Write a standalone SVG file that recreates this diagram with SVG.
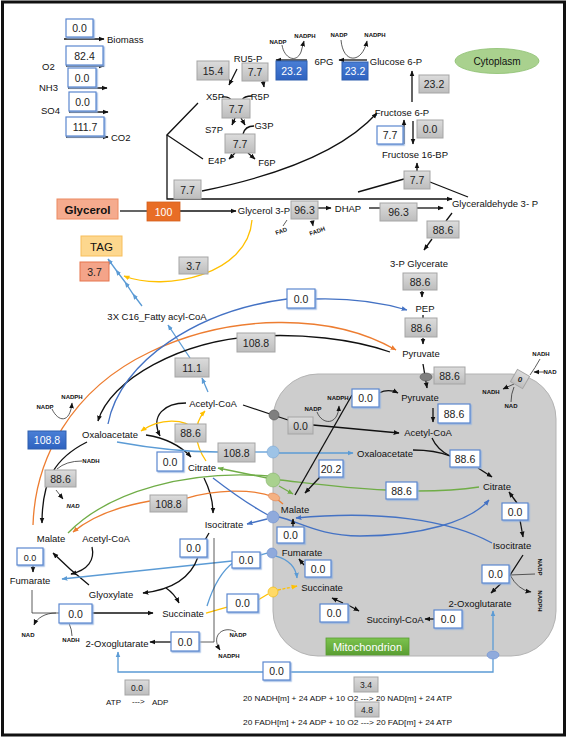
<svg xmlns="http://www.w3.org/2000/svg" width="567" height="739" viewBox="0 0 567 739">
<style>
.m{font-family:"Liberation Sans",Arial,sans-serif;font-size:9.5px;fill:#111;text-anchor:middle}
.ml{font-family:"Liberation Sans",Arial,sans-serif;font-size:9.5px;fill:#111}
.c{font-family:"Liberation Sans",Arial,sans-serif;font-size:6px;font-weight:bold;fill:#111;text-anchor:middle}
.n{font-family:"Liberation Sans",Arial,sans-serif;font-size:10.5px;fill:#222;text-anchor:middle}
.nw{font-family:"Liberation Sans",Arial,sans-serif;font-size:10.5px;fill:#fff;text-anchor:middle}
.gb{fill:url(#gg);stroke:#a5a5a5;stroke-width:1}
.wb{fill:#fff;stroke:#5b87cf;stroke-width:1.2;filter:url(#ws)}
.bb{fill:url(#bg);stroke:#2f5fae;stroke-width:1}
.k{fill:none;stroke:#111;stroke-width:1.3}
.kt{fill:none;stroke:#333;stroke-width:0.8}
.b{fill:none;stroke:#5b9bd5;stroke-width:1.3}
.db{fill:none;stroke:#4472c4;stroke-width:1.3}
.o{fill:none;stroke:#ed7d31;stroke-width:1.3}
.g{fill:none;stroke:#70ad47;stroke-width:1.3}
.y{fill:none;stroke:#ffc000;stroke-width:1.3}
.eq{font-family:"Liberation Sans",Arial,sans-serif;font-size:8px;fill:#111}
</style>
<defs>
<filter id="ws" x="-10%" y="-10%" width="130%" height="140%"><feDropShadow dx="1.2" dy="1.2" stdDeviation="0.3" flood-color="#8fb0e0" flood-opacity="0.9"/></filter>
<linearGradient id="gg" x1="0" y1="0" x2="0" y2="1"><stop offset="0" stop-color="#dcdcdc"/><stop offset="1" stop-color="#bdbdbd"/></linearGradient>
<linearGradient id="bg" x1="0" y1="0" x2="0" y2="1"><stop offset="0" stop-color="#4a7fd6"/><stop offset="1" stop-color="#2e62c0"/></linearGradient>
<linearGradient id="grg" x1="0" y1="0" x2="0" y2="1"><stop offset="0" stop-color="#7cc34e"/><stop offset="1" stop-color="#5a9e32"/></linearGradient>
<marker id="ak" viewBox="0 0 10 10" refX="9" refY="5" markerWidth="6" markerHeight="6" markerUnits="userSpaceOnUse" orient="auto-start-reverse"><path d="M0,1 L10,5 L0,9 z" fill="#111"/></marker>
<marker id="ab" viewBox="0 0 10 10" refX="9" refY="5" markerWidth="6" markerHeight="6" markerUnits="userSpaceOnUse" orient="auto-start-reverse"><path d="M0,1 L10,5 L0,9 z" fill="#5b9bd5"/></marker>
<marker id="adb" viewBox="0 0 10 10" refX="9" refY="5" markerWidth="6" markerHeight="6" markerUnits="userSpaceOnUse" orient="auto-start-reverse"><path d="M0,1 L10,5 L0,9 z" fill="#4472c4"/></marker>
<marker id="ao" viewBox="0 0 10 10" refX="9" refY="5" markerWidth="6" markerHeight="6" markerUnits="userSpaceOnUse" orient="auto-start-reverse"><path d="M0,1 L10,5 L0,9 z" fill="#ed7d31"/></marker>
<marker id="ag" viewBox="0 0 10 10" refX="9" refY="5" markerWidth="6" markerHeight="6" markerUnits="userSpaceOnUse" orient="auto-start-reverse"><path d="M0,1 L10,5 L0,9 z" fill="#70ad47"/></marker>
<marker id="ay" viewBox="0 0 10 10" refX="9" refY="5" markerWidth="6" markerHeight="6" markerUnits="userSpaceOnUse" orient="auto-start-reverse"><path d="M0,1 L10,5 L0,9 z" fill="#ffc000"/></marker>
</defs>
<rect x="0" y="0" width="567" height="739" fill="#fff"/>
<rect x="2.5" y="2" width="562" height="733" fill="none" stroke="#111" stroke-width="3"/>

<g id="mitochondrion-compartment">
<rect x="273" y="374" width="283" height="282" rx="45" fill="#cdcdcd" stroke="#b3b3b3" stroke-width="1"/>
</g>

<g id="connectors">
<path class="k" d="M64 39 H104" marker-end="url(#ak)" stroke-width="1"/>
<path class="k" d="M66 66 H104" marker-end="url(#ak)" stroke-width="1"/>
<path class="k" d="M68 88 H107" marker-end="url(#ak)" stroke-width="1"/>
<path class="k" d="M69 112 H108" marker-end="url(#ak)" stroke-width="1"/>
<path class="k" d="M66 137 H108" marker-end="url(#ak)" stroke-width="1"/>
<path class="k" d="M307 60 H276" marker-end="url(#ak)"/>
<path class="kt" d="M282 45 C 284 58, 296 64, 301 52 L304 41" marker-end="url(#ak)"/>
<path class="k" d="M367 60 H339" marker-end="url(#ak)"/>
<path class="kt" d="M341 40 C 343 64, 362 64, 367 41" marker-end="url(#ak)"/>
<path class="k" d="M237 69 L229 85" marker-end="url(#ak)"/>
<path class="k" d="M263 81 L264 87" marker-end="url(#ak)"/>
<path class="k" d="M222 97 Q229 96 231 100"/>
<path class="k" d="M252 96 Q244 96 242 100"/>
<path class="k" d="M235 118 L232 125" marker-end="url(#ak)"/>
<path class="k" d="M241 118 L245 125" marker-end="url(#ak)"/>
<path class="k" d="M254 126 Q245 126 243 134"/>
<path class="k" d="M235 153 L229 159" marker-end="url(#ak)"/>
<path class="k" d="M248 153 L255 159" marker-end="url(#ak)"/>
<path class="k" d="M198 103 L167 135 L203 159"/>
<path class="k" d="M167 135 V199 H452" marker-end="url(#ak)"/>
<path class="k" d="M202 191 Q 330 165 377 113" marker-end="url(#ak)"/>
<path class="k" d="M412 102 V71" marker-end="url(#ak)"/>
<path class="k" d="M404 144 V120" marker-end="url(#ak)"/>
<path class="k" d="M413 121 V144" marker-end="url(#ak)"/>
<path class="k" d="M417 171 V163" marker-end="url(#ak)"/>
<path class="k" d="M358 192 L404 179"/>
<path class="k" d="M430 182 L468 197"/>
<path class="k" d="M120 211 H147"/>
<path class="k" d="M180 211 H236" marker-end="url(#ak)"/>
<path class="k" d="M318 208 H331" marker-end="url(#ak)"/>
<path class="kt" d="M287 220 L283 226"/>
<path class="kt" d="M312 220 L313 226" marker-end="url(#ak)"/>
<path class="k" d="M369 208 H380"/>
<path class="k" d="M417 208 H443" marker-end="url(#ak)"/>
<path class="k" d="M452 213 L446 221"/>
<path class="k" d="M432 239 L424 250" marker-end="url(#ak)"/>
<path class="k" d="M422 291 V297" marker-end="url(#ak)"/>
<path class="k" d="M423 315 V318"/>
<path class="k" d="M423 338 V344" marker-end="url(#ak)"/>
<path class="k" d="M423 364 L427 388" marker-end="url(#ak)"/>
<path class="y" d="M252 220 C 248 275, 165 292, 124 276" marker-end="url(#ay)"/>
<polyline class="b" points="142,306 133,294 125,282 116,270 108,259" marker-mid="url(#ab)" marker-end="url(#ab)"/>
<path class="b" d="M190 358 L168 325" marker-end="url(#ab)"/>
<path class="b" d="M208 392 L202 378" marker-end="url(#ab)"/>
<path class="o" d="M33 525 C 35 460, 70 390, 150 352 S 330 312, 396 350" marker-end="url(#ao)"/>
<path class="k" d="M390 352 C 350 338, 300 334, 260 336 C 180 340, 110 380, 98 421" marker-end="url(#ak)"/>
<path class="db" d="M108 424 C 120 360, 200 310, 287 299"/>
<path class="db" d="M315 299 C 350 298, 380 302, 407 310" marker-end="url(#adb)"/>
<path class="kt" d="M52 409 C 58 422, 70 424, 72 403" marker-end="url(#ak)"/>
<path class="k" d="M87 442 C 55 458, 42 480, 42 523" marker-end="url(#ak)"/>
<path class="kt" d="M82 461 Q 66 461, 57 469"/>
<path class="kt" d="M56 490 L63 499" marker-end="url(#ak)"/>
<path class="k" d="M33 565 V572" marker-end="url(#ak)"/>
<path class="k" d="M89 585 Q 70 570 53 553" marker-end="url(#ak)"/>
<path class="k" d="M92 547 C 95 560, 88 570, 71 574" marker-end="url(#ak)"/>
<path class="k" d="M146 435 C 165 438, 180 445, 191 457" marker-end="url(#ak)"/>
<path class="k" d="M186 403 C 165 403, 150 415, 160 436" marker-end="url(#ak)"/>
<path class="y" d="M206 461 C 195 445, 192 425, 205 411" marker-end="url(#ay)"/>
<path class="y" d="M195 430 C 185 418, 160 418, 141 431" marker-end="url(#ay)"/>
<path class="k" d="M204 478 C 210 490, 213 500, 213 513" marker-end="url(#ak)"/>
<path class="k" d="M243 405 L288 420"/>
<path class="k" d="M313 425 L399 433" marker-end="url(#ak)"/>
<path class="b" d="M117 442 C 150 448, 190 452, 218 452"/>
<path class="b" d="M255 452 L268 452"/>
<path class="b" d="M279 453 L353 453" marker-end="url(#ab)"/>
<path class="g" d="M479 487 C 460 490, 440 491, 417 491"/>
<path class="g" d="M386 490 C 340 488, 300 482, 280 480"/>
<path class="g" d="M267 478 L218 468" marker-end="url(#ag)"/>
<path class="g" d="M268 476 C 190 470, 110 490, 68 533"/>
<path class="g" d="M279 486 L293 494" marker-end="url(#ag)"/>
<path class="o" d="M274 497 C 250 488, 215 490, 187 498"/>
<path class="o" d="M150 501 C 115 507, 90 518, 73 532" marker-end="url(#ao)"/>
<path class="o" d="M277 499 L283 504"/>
<path class="db" d="M213 478 C 235 495, 255 508, 268 515"/>
<path class="db" d="M267 519 L247 524" marker-end="url(#adb)"/>
<path class="db" d="M279 517 C 300 522, 320 536, 360 536 C 420 536, 470 522, 489 500" marker-end="url(#adb)"/>
<path class="db" d="M492 543 C 450 520, 380 510, 296 518" marker-end="url(#adb)"/>
<path class="b" d="M267 553 L260 555"/>
<path class="b" d="M232 561 L62 579" marker-end="url(#ab)"/>
<path class="b" d="M276 556 C 290 560, 296 568, 297 578" marker-end="url(#ab)"/>
<path class="b" d="M207 606 C 212 590, 220 572, 234 562"/>
<path class="y" d="M206 613 L227 607"/>
<path class="y" d="M258 600 L268 594"/>
<path class="y" d="M278 590 L297 586" stroke-dasharray="3 1.5" marker-end="url(#ay)"/>
<path class="k" d="M295 495 L352 395"/>
<path class="k" d="M379 393 C 385 390, 392 390, 398 393" marker-end="url(#ak)"/>
<path class="kt" d="M317 412 C 322 425, 338 426, 339 406" marker-end="url(#ak)"/>
<path class="k" d="M433 408 V422" marker-end="url(#ak)"/>
<path class="k" d="M432 438 C 436 447, 442 452, 450 456"/>
<path class="k" d="M413 450 C 430 450, 440 452, 450 456"/>
<path class="k" d="M478 468 L492 477" marker-end="url(#ak)"/>
<path class="k" d="M320 477 L305 493" marker-end="url(#ak)"/>
<path class="k" d="M517 503 L509 492" marker-end="url(#ak)"/>
<path class="k" d="M520 520 L523 537" marker-end="url(#ak)"/>
<path class="k" d="M293 527 V519" marker-end="url(#ak)"/>
<path class="k" d="M304 565 L299 559" marker-end="url(#ak)"/>
<path class="k" d="M523 555 L510 575 L491 593" marker-end="url(#ak)"/>
<path class="kt" d="M535 574 L510 575"/>
<path class="kt" d="M510 575 Q 518 590 531 592" marker-end="url(#ak)"/>
<path class="k" d="M434 619 L425 619" marker-end="url(#ak)"/>
<path class="k" d="M348 605 L359 611" marker-end="url(#ak)"/>
<path class="k" d="M343 603 L332 598" marker-end="url(#ak)"/>
<path class="kt" d="M540 359 Q 535 368 530 375"/>
<path class="kt" d="M544 372 L534 372" marker-end="url(#ak)"/>
<path class="kt" d="M514 384 L503 389" marker-end="url(#ak)"/>
<path class="kt" d="M511 402 Q 511 394 514 387"/>
<path class="b" d="M493 650 V611" marker-end="url(#ab)"/>
<path class="b" d="M493 659 V672 H290"/>
<path class="b" d="M263 672 H118 V652" marker-end="url(#ab)"/>
<path class="k" d="M209 533 L205 540"/>
<path class="k" d="M198 557 C 190 580, 170 590, 143 593" marker-end="url(#ak)"/>
<path class="k" d="M166 588 C 172 592, 176 597, 179 603" marker-end="url(#ak)"/>
<path class="kt" d="M214 538 V642 H199"/>
<path class="k" d="M171 642 H150" marker-end="url(#ak)"/>
<path class="kt" d="M236 632 C 224 625, 210 635, 220 650" marker-end="url(#ak)"/>
<path class="kt" d="M32 590 V613 H59"/>
<path class="k" d="M92 613 H153" marker-end="url(#ak)"/>
<path class="kt" d="M56 613 C 45 613, 37 618, 34 625" marker-end="url(#ak)"/>
<path class="kt" d="M69 623 Q 72 630, 72 636"/>
</g>

<g id="transporters">
<ellipse cx="426" cy="377" rx="6" ry="4" fill="#7f7f7f" stroke="#555" stroke-width="0.6"/>
<circle cx="274" cy="415" r="5" fill="#7f7f7f" stroke="#555" stroke-width="0.6"/>
<circle cx="273" cy="452" r="6" fill="#9dc3e6" stroke="#7aa7d6" stroke-width="0.6"/>
<circle cx="273" cy="480" r="7" fill="#a9d18e" stroke="#85b46a" stroke-width="0.6"/>
<ellipse cx="274" cy="497" rx="6" ry="3.5" fill="#f4b183" stroke="#e58a56" stroke-width="0.6" transform="rotate(20 274 497)"/>
<circle cx="273" cy="517" r="6" fill="#8faadc" stroke="#6c8fd0" stroke-width="0.6"/>
<circle cx="272" cy="553" r="5" fill="#8faadc" stroke="#6c8fd0" stroke-width="0.6"/>
<circle cx="273" cy="592" r="5" fill="#ffd966" stroke="#f2b800" stroke-width="0.6"/>
<ellipse cx="493" cy="655" rx="6" ry="4" fill="#8faadc" stroke="#6c8fd0" stroke-width="0.6"/>
</g>

<g id="exchange">
<g id="biomass"><rect class="wb" x="66" y="19" width="27" height="18"/><text class="n" x="79.5" y="32">0.0</text><text class="ml" x="107" y="43">Biomass</text></g>
<g id="o2"><rect class="wb" x="66" y="46" width="37" height="19"/><text class="n" x="84.5" y="59.5">82.4</text><text class="ml" x="42" y="70">O2</text></g>
<g id="nh3"><rect class="wb" x="68" y="68" width="28" height="19"/><text class="n" x="82" y="81.5">0.0</text><text class="ml" x="39" y="91">NH3</text></g>
<g id="so4"><rect class="wb" x="69" y="92" width="27" height="19"/><text class="n" x="82.5" y="105.5">0.0</text><text class="ml" x="41" y="114">SO4</text></g>
<g id="co2"><rect class="wb" x="66" y="117" width="38" height="19"/><text class="n" x="85" y="130.5">111.7</text><text class="ml" x="111" y="141">CO2</text></g>
</g>

<g id="cytoplasm-label"><ellipse cx="497" cy="61" rx="42" ry="12.5" fill="#a9d18e" stroke="#8cbf6e" stroke-width="0.8"/><text class="m" x="497" y="64.5" style="font-size:10px">Cytoplasm</text></g>
<g id="mitochondrion-label"><rect x="326" y="638" width="83" height="17" fill="url(#grg)" stroke="#5a9e32" stroke-width="0.8"/><text class="m" x="367.5" y="650.5" style="font-size:11px;fill:#fff">Mitochondrion</text></g>

<g id="metabolites">
<g id="ru5p"><text class="m" x="248" y="62">RU5-P</text></g>
<g id="x5p"><text class="m" x="215" y="100">X5P</text></g>
<g id="r5p"><text class="m" x="260" y="100">R5P</text></g>
<g id="s7p"><text class="m" x="214" y="133">S7P</text></g>
<g id="g3p"><text class="m" x="264" y="129">G3P</text></g>
<g id="e4p"><text class="m" x="217" y="164">E4P</text></g>
<g id="f6p-ppp"><text class="m" x="267" y="166">F6P</text></g>
<g id="6pg"><text class="m" x="324" y="65">6PG</text></g>
<g id="glucose6p"><text class="m" x="396" y="65">Glucose 6-P</text></g>
<g id="fructose6p"><text class="m" x="402" y="116">Fructose 6-P</text></g>
<g id="fructose16bp"><text class="m" x="415" y="158">Fructose 16-BP</text></g>
<g id="glycerol3p"><text class="m" x="264" y="214">Glycerol 3-P</text></g>
<g id="dhap"><text class="m" x="348" y="212">DHAP</text></g>
<g id="glyceraldehyde3p"><text class="m" x="495" y="207">Glyceraldehyde 3- P</text></g>
<g id="pglycerate"><text class="m" x="419" y="267">3-P Glycerate</text></g>
<g id="pep"><text class="m" x="425" y="312">PEP</text></g>
<g id="pyruvate-c"><text class="m" x="421" y="357">Pyruvate</text></g>
<g id="fattyacyl"><text class="m" x="157" y="320">3X C16_Fatty acyl-CoA</text></g>
<g id="acetylcoa-c1"><text class="m" x="213" y="407">Acetyl-CoA</text></g>
<g id="oxaloacetate-c"><text class="m" x="110" y="438">Oxaloacetate</text></g>
<g id="citrate-c"><text class="m" x="202" y="471">Citrate</text></g>
<g id="isocitrate-c"><text class="m" x="224" y="528">Isocitrate</text></g>
<g id="malate-c"><text class="m" x="51" y="542">Malate</text></g>
<g id="acetylcoa-c2"><text class="m" x="106" y="542">Acetyl-CoA</text></g>
<g id="fumarate-c"><text class="m" x="30" y="584">Fumarate</text></g>
<g id="glyoxylate"><text class="m" x="111" y="598">Glyoxylate</text></g>
<g id="succinate-c"><text class="m" x="183" y="617">Succinate</text></g>
<g id="oxoglutarate-c"><text class="m" x="117" y="647">2-Oxoglutarate</text></g>
<g id="pyruvate-m"><text class="m" x="420" y="401">Pyruvate</text></g>
<g id="acetylcoa-m"><text class="m" x="428" y="436">Acetyl-CoA</text></g>
<g id="oxaloacetate-m"><text class="m" x="385" y="457">Oxaloacetate</text></g>
<g id="citrate-m"><text class="m" x="497" y="490">Citrate</text></g>
<g id="malate-m"><text class="m" x="295" y="513">Malate</text></g>
<g id="isocitrate-m"><text class="m" x="512" y="549">Isocitrate</text></g>
<g id="fumarate-m"><text class="m" x="302" y="556">Fumarate</text></g>
<g id="succinate-m"><text class="m" x="322" y="591">Succinate</text></g>
<g id="oxoglutarate-m"><text class="m" x="480" y="607">2-Oxoglutarate</text></g>
<g id="succinylcoa"><text class="m" x="395" y="623">Succinyl-CoA</text></g>
</g>

<g id="cofactors">
<text class="c" x="278" y="44">NADP</text><text class="c" x="305" y="38">NADPH</text>
<text class="c" x="339" y="37">NADP</text><text class="c" x="375" y="37">NADPH</text>
<text class="c" x="282" y="233" transform="rotate(-20 282 233)">FAD</text><text class="c" x="318" y="233" transform="rotate(-20 318 233)">FADH</text>
<text class="c" x="45" y="409">NADP</text><text class="c" x="72" y="399">NADPH</text>
<text class="c" x="91" y="463">NADH</text><text class="c" x="73" y="508" font-style="italic">NAD</text>
<text class="c" x="313" y="411">NADP</text><text class="c" x="338" y="400">NADPH</text>
<text class="c" x="541" y="356">NADH</text><text class="c" x="550" y="374">NAD</text>
<text class="c" x="491" y="394">NADH</text><text class="c" x="511" y="408">NAD</text>
<text class="c" x="538" y="567" transform="rotate(90 538 567)">NADP</text><text class="c" x="538" y="601" transform="rotate(90 538 601)">NADPH</text>
<text class="c" x="28" y="637">NAD</text><text class="c" x="71" y="642">NADH</text>
<text class="c" x="238" y="637">NADP</text><text class="c" x="229" y="658">NADPH</text>
</g>

<g id="flux-boxes">
<g id="f-15-4"><rect class="gb" x="197" y="61" width="32" height="19"/><text class="n" x="213" y="74.5">15.4</text></g>
<g id="f-ru5p-r5p"><rect class="gb" x="242" y="63" width="26" height="18"/><text class="n" x="255" y="76">7.7</text></g>
<g id="f-tk1"><rect class="gb" x="222" y="99" width="28" height="19"/><text class="n" x="236" y="112.5">7.7</text></g>
<g id="f-ta"><rect class="gb" x="225" y="134" width="30" height="19"/><text class="n" x="240" y="147.5">7.7</text></g>
<g id="f-tk2"><rect class="gb" x="174" y="180" width="27" height="19"/><text class="n" x="187.5" y="193.5">7.7</text></g>
<g id="f-6pgdh"><rect class="bb" x="276" y="61" width="31" height="19"/><text class="nw" x="291.5" y="74.5">23.2</text></g>
<g id="f-g6pdh"><rect class="bb" x="342" y="62" width="26" height="18"/><text class="nw" x="355" y="75">23.2</text></g>
<g id="f-pgi"><rect class="gb" x="419" y="75" width="30" height="18"/><text class="n" x="434" y="88">23.2</text></g>
<g id="f-fbp"><rect class="wb" x="377" y="126" width="26" height="18"/><text class="n" x="390" y="139">7.7</text></g>
<g id="f-pfk"><rect class="gb" x="417" y="120" width="26" height="18"/><text class="n" x="430" y="133">0.0</text></g>
<g id="f-ald"><rect class="gb" x="404" y="171" width="26" height="18"/><text class="n" x="417" y="184">7.7</text></g>
<g id="f-g3pdh"><rect class="gb" x="291" y="201" width="27" height="18"/><text class="n" x="304.5" y="214">96.3</text></g>
<g id="f-tpi"><rect class="gb" x="380" y="203" width="37" height="18"/><text class="n" x="398.5" y="216">96.3</text></g>
<g id="f-gapdh"><rect class="gb" x="427" y="221" width="32" height="17"/><text class="n" x="443" y="233.5">88.6</text></g>
<g id="f-eno"><rect class="gb" x="403" y="273" width="34" height="17"/><text class="n" x="420" y="285.5">88.6</text></g>
<g id="f-pk"><rect class="gb" x="405" y="318" width="32" height="19"/><text class="n" x="421" y="331.5">88.6</text></g>
<g id="f-pyrt"><rect class="gb" x="434" y="367" width="31" height="17"/><text class="n" x="449.5" y="379.5">88.6</text></g>
<g id="f-nadh-shuttle"><rect class="gb" x="513" y="372" width="14" height="14" transform="rotate(30 520 379)"/><text class="n" x="520" y="382" style="font-size:8px;font-style:italic;font-weight:bold">0</text></g>
<g id="glycerol"><rect x="57" y="199" width="61" height="20" fill="#f5ab8e" stroke="#ec8a60" stroke-width="1"/><text class="m" x="87.5" y="213.5" style="font-size:11.5px;font-weight:bold">Glycerol</text></g>
<g id="f-glyk"><rect x="147" y="202" width="33" height="19" fill="#e86d25" stroke="#d4601c" stroke-width="0.8"/><text class="nw" x="163.5" y="215.5">100</text></g>
<g id="tag"><rect x="81" y="236" width="41" height="20" fill="#fdd78e" stroke="#f7be5a" stroke-width="1"/><text class="m" x="101.5" y="250.5" style="font-size:11.5px">TAG</text></g>
<g id="f-tag"><rect x="80" y="262" width="29" height="19" fill="#f4a489" stroke="#e6744c" stroke-width="1"/><text class="n" x="94.5" y="275.5">3.7</text></g>
<g id="f-gly-tag"><rect class="gb" x="179" y="257" width="29" height="17"/><text class="n" x="193.5" y="269.5">3.7</text></g>
<g id="f-me-c"><rect class="gb" x="237" y="333" width="38" height="19"/><text class="n" x="256" y="346.5">108.8</text></g>
<g id="f-pepck"><rect class="wb" x="287" y="289" width="28" height="19"/><text class="n" x="301" y="302.5">0.0</text></g>
<g id="f-fas"><rect class="gb" x="175" y="358" width="34" height="19"/><text class="n" x="192" y="371.5">11.1</text></g>
<g id="f-pc"><rect class="bb" x="28" y="431" width="38" height="18"/><text class="nw" x="47" y="444">108.8</text></g>
<g id="f-acl"><rect class="gb" x="175" y="424" width="31" height="18"/><text class="n" x="190.5" y="437">88.6</text></g>
<g id="f-cs-c"><rect class="wb" x="157" y="452" width="26" height="19"/><text class="n" x="170" y="465.5">0.0</text></g>
<g id="f-oaa-t"><rect class="gb" x="218" y="443" width="37" height="19"/><text class="n" x="236.5" y="456.5">108.8</text></g>
<g id="f-mdh-c"><rect class="gb" x="45" y="470" width="31" height="17"/><text class="n" x="60.5" y="482.5">88.6</text></g>
<g id="f-mal-t"><rect class="gb" x="150" y="495" width="37" height="17"/><text class="n" x="168.5" y="507.5">108.8</text></g>
<g id="f-pdh-bypass"><rect class="gb" x="288" y="417" width="25" height="17"/><text class="n" x="300.5" y="429.5">0.0</text></g>
<g id="f-me-m"><rect class="wb" x="352" y="389" width="27" height="18"/><text class="n" x="365.5" y="402">0.0</text></g>
<g id="f-pdh"><rect class="wb" x="438" y="404" width="32" height="19"/><text class="n" x="454" y="417.5">88.6</text></g>
<g id="f-cs-m"><rect class="wb" x="450" y="450" width="30" height="17"/><text class="n" x="465" y="462.5">88.6</text></g>
<g id="f-mdh-m"><rect class="wb" x="319" y="460" width="24" height="17"/><text class="n" x="331" y="472.5">20.2</text></g>
<g id="f-cit-t"><rect class="wb" x="386" y="482" width="31" height="17"/><text class="n" x="401.5" y="494.5">88.6</text></g>
<g id="f-aco-m"><rect class="wb" x="502" y="503" width="26" height="17"/><text class="n" x="515" y="515.5">0.0</text></g>
<g id="f-fum-m"><rect class="wb" x="277" y="527" width="27" height="16"/><text class="n" x="290.5" y="539">0.0</text></g>
<g id="f-fum-c"><rect class="wb" x="17" y="548" width="26" height="17"/><text class="n" x="30" y="560.5" style="font-size:9px">0.0</text></g>
<g id="f-icl"><rect class="wb" x="180" y="539" width="27" height="18"/><text class="n" x="193.5" y="552">0.0</text></g>
<g id="f-dic-t"><rect class="wb" x="232" y="552" width="28" height="16"/><text class="n" x="246" y="564">0.0</text></g>
<g id="f-sdh"><rect class="wb" x="305" y="560" width="26" height="17"/><text class="n" x="318" y="572.5">0.0</text></g>
<g id="f-idh-m"><rect class="wb" x="482" y="565" width="27" height="18"/><text class="n" x="495.5" y="578">0.0</text></g>
<g id="f-suc-t"><rect class="wb" x="227" y="594" width="31" height="18"/><text class="n" x="242.5" y="607">0.0</text></g>
<g id="f-scs"><rect class="wb" x="320" y="604" width="28" height="18"/><text class="n" x="334" y="617">0.0</text></g>
<g id="f-ogdh"><rect class="wb" x="434" y="610" width="28" height="18"/><text class="n" x="448" y="623">0.0</text></g>
<g id="f-frd"><rect class="wb" x="59" y="604" width="33" height="19"/><text class="n" x="75.5" y="617.5">0.0</text></g>
<g id="f-idh-c"><rect class="wb" x="171" y="632" width="28" height="19"/><text class="n" x="185" y="645.5">0.0</text></g>
<g id="f-akg-t"><rect class="wb" x="263" y="662" width="27" height="18"/><text class="n" x="276.5" y="675">0.0</text></g>
</g>

<g id="energy">
<g id="f-atpm"><rect class="gb" x="125" y="680" width="24" height="15"/><text class="n" x="137" y="691" style="font-size:8.5px">0.0</text></g>
<text class="eq" x="106" y="705">ATP</text><text class="eq" x="132" y="704">---&gt;</text><text class="eq" x="152" y="705">ADP</text>
<g id="f-oxphos-nadh"><rect class="gb" x="354" y="677" width="24" height="15"/><text class="n" x="366" y="688" style="font-size:8.5px">3.4</text></g>
<text class="eq" x="243" y="701" textLength="209" lengthAdjust="spacingAndGlyphs">20 NADH[m] + 24 ADP + 10 O2 ---&gt; 20 NAD[m] + 24 ATP</text>
<g id="f-oxphos-fadh"><rect class="gb" x="355" y="702" width="24" height="15"/><text class="n" x="367" y="713" style="font-size:8.5px">4.8</text></g>
<text class="eq" x="243" y="725" textLength="209" lengthAdjust="spacingAndGlyphs">20 FADH[m] + 24 ADP + 10 O2 ---&gt; 20 FAD[m] + 24 ATP</text>
</g>
</svg>
